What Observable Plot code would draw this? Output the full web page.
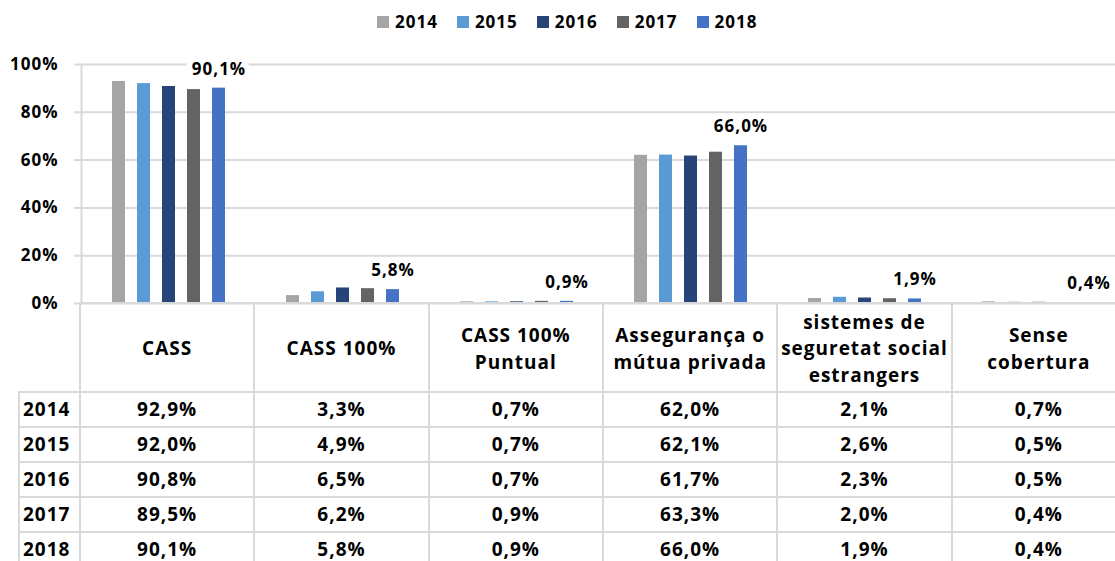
<!DOCTYPE html>
<html>
<head>
<meta charset="utf-8">
<script src="https://cdn.jsdelivr.net/npm/d3@7"></script>
<script src="https://cdn.jsdelivr.net/npm/@observablehq/plot@0.6"></script>
<style>
  html, body { margin: 0; padding: 0; background: white; overflow: hidden; }
  #wrap { position: relative; width: 1140px; height: 561px; font-family: "Open Sans", sans-serif; font-weight: 700; color: #000; }
  #legend { position: absolute; top: 11px; left: 377px; }
  #legend .lg-swatches { font-family: "Open Sans", sans-serif !important; font-size: 17px !important; font-weight: 700 !important; letter-spacing: 1px; color: #000; margin: 0 !important; min-height: 22px !important; line-height: 22px; display: flex; flex-wrap: nowrap !important; }
  #legend .lg-swatch { margin-right: 19px !important; }
  #legend .lg-swatch > svg { margin-right: 6px !important; }
  #chart { position: absolute; top: 0; left: 0; }
  #tbl { position: absolute; top: 302px; left: 18px; border-collapse: collapse; table-layout: fixed; width: 1109px;
         font-family: "Open Sans", sans-serif; font-weight: 700; font-size: 19px; letter-spacing: 1px; color: #000; }
  #tbl td { border: 2px solid #d9d9d9; padding: 0; text-align: center; vertical-align: middle; white-space: pre-line; overflow: hidden; }
  #tbl tr.head td { height: 85px; line-height: 26.5px; padding-top: 2px; }
  #tbl tr.head td.blank { border-top: none; border-left: none; }
  #tbl tr.row td { height: 33px; line-height: 33px; }
  #tbl td.yr { text-align: left; padding-left: 3px; }
</style>
</head>
<body>
<div id="wrap">
  <div id="chart"></div>
  <div id="legend"></div>
  <table id="tbl"></table>
</div>
<script>
const categories = ["CASS", "CASS 100%", "CASS 100%\nPuntual", "Assegurança o\nmútua privada", "sistemes de\nseguretat social\nestrangers", "Sense\ncobertura"];
const years = ["2014", "2015", "2016", "2017", "2018"];
const colors = ["#A5A5A5", "#5B9BD5", "#264478", "#636363", "#4472C4"];
const v2014 = [92.9, 3.3, 0.7, 62.0, 2.1, 0.7];
const v2015 = [92.0, 4.9, 0.7, 62.1, 2.6, 0.5];
const v2016 = [90.8, 6.5, 0.7, 61.7, 2.3, 0.5];
const v2017 = [89.5, 6.2, 0.9, 63.3, 2.0, 0.4];
const v2018 = [90.1, 5.8, 0.9, 66.0, 1.9, 0.4];
const yTicks = [0, 20, 40, 60, 80, 100];
const labelYear = "2018";

const series = [v2014, v2015, v2016, v2017, v2018];
const fmt = v => v.toFixed(1).replace(".", ",") + "%";
const data = categories.flatMap((c, i) => years.map((y, j) => ({category: c, year: y, value: series[j][i]})));
const labels = data.filter(d => d.year === labelYear);

const chart = Plot.plot({
  width: 1126,
  height: 304,
  marginTop: 64,
  marginBottom: 1,
  marginLeft: 80,
  marginRight: 0,
  style: {fontFamily: "Open Sans, sans-serif", fontWeight: "bold", fontSize: "16px", letterSpacing: "1px", color: "#000", background: "transparent", overflow: "visible"},
  fx: {domain: categories, axis: null, paddingInner: 0, paddingOuter: 0},
  x: {domain: years, axis: null, paddingInner: 0.49, paddingOuter: 1.16},
  y: {domain: [0, 100], label: null},
  color: {domain: years, range: colors},
  marks: [
    Plot.ruleY(yTicks, {stroke: "#d9d9d9", strokeWidth: 2}),
    Plot.axisY(yTicks, {label: null, tickSize: 7, tickPadding: 16, stroke: "#d9d9d9", strokeWidth: 2, color: "#000", fontSize: 17, tickFormat: d => d + "%"}),
    Plot.frame({anchor: "left", facetAnchor: "left", stroke: "#d9d9d9", strokeWidth: 2}),
    Plot.barY(data, {fx: "category", x: "year", y: "value", fill: "year"}),
    Plot.text(labels, {fx: "category", x: "year", y: "value", text: d => fmt(d.value), dy: -19, fontSize: 17, fill: "#000", stroke: "white", strokeWidth: 12})
  ]
});
document.getElementById("chart").appendChild(chart);

const legend = Plot.legend({color: {domain: years, range: colors}, swatchSize: 12, className: "lg"});
document.getElementById("legend").appendChild(legend);

// data table
const tbl = document.getElementById("tbl");
const colg = document.createElement("colgroup");
const c0 = document.createElement("col"); c0.style.width = "61px"; colg.appendChild(c0);
categories.forEach(() => { const c = document.createElement("col"); c.style.width = "174.33px"; colg.appendChild(c); });
tbl.appendChild(colg);
const head = document.createElement("tr"); head.className = "head";
const blank = document.createElement("td"); blank.className = "blank"; head.appendChild(blank);
categories.forEach(c => { const td = document.createElement("td"); td.textContent = c; head.appendChild(td); });
tbl.appendChild(head);
years.forEach((y, j) => {
  const tr = document.createElement("tr"); tr.className = "row";
  const td0 = document.createElement("td"); td0.className = "yr"; td0.textContent = y; tr.appendChild(td0);
  categories.forEach((c, i) => { const td = document.createElement("td"); td.textContent = fmt(series[j][i]); tr.appendChild(td); });
  tbl.appendChild(tr);
});
</script>
</body>
</html>
